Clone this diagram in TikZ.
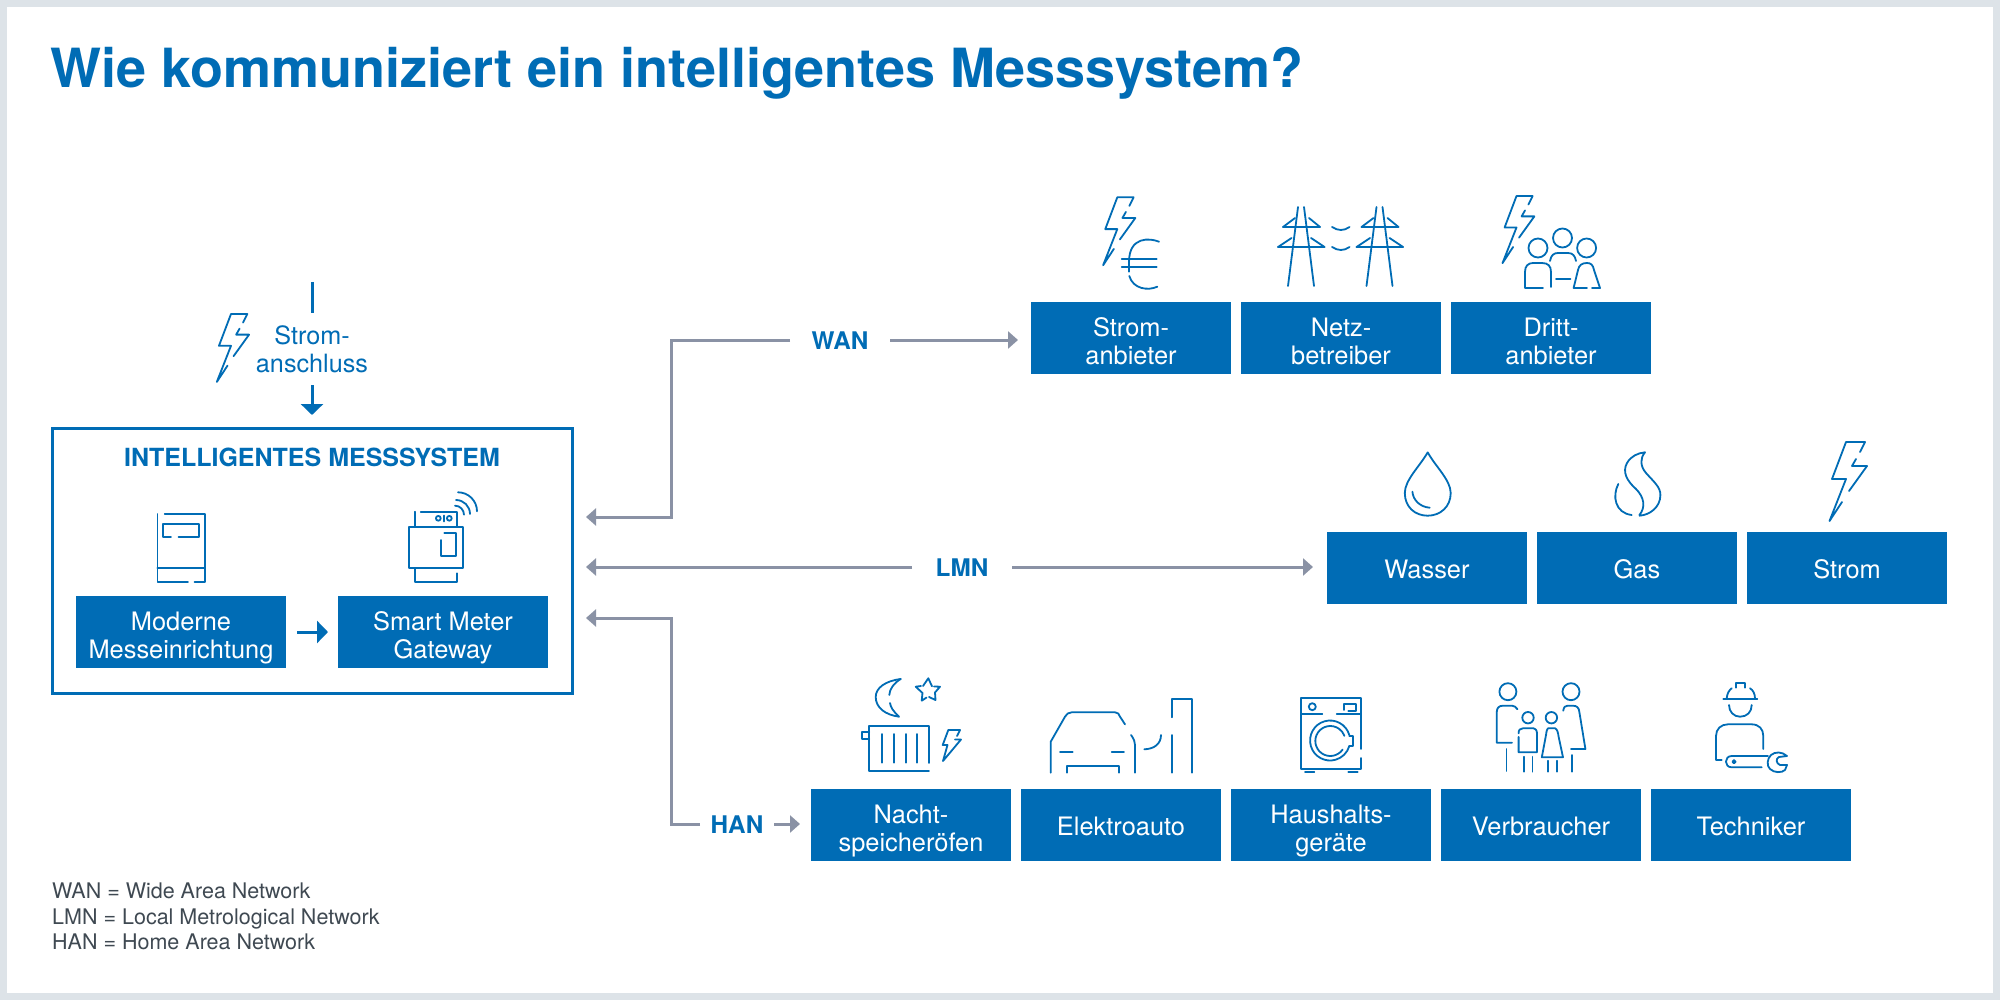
\documentclass[tikz,border=0pt]{standalone}
\usepackage{fontspec}
\setmainfont{TeX Gyre Heros}
\usetikzlibrary{arrows.meta,calc}
\definecolor{mesblue}{HTML}{006CB5}
\definecolor{linkgrey}{HTML}{8A92A5}
\definecolor{framegrey}{HTML}{DDE3E8}
\definecolor{legendgrey}{HTML}{3F4952}
\tikzset{
  bluebox/.style={fill=mesblue,text=white,minimum width=200pt,minimum height=72pt,outer sep=0pt,
    inner sep=0pt,align=center,text height=20pt,text depth=0pt,font=\fontsize{25.4}{28}\selectfont},
  twolines/.style={text height=52pt},
  linklabel/.style={text=mesblue,minimum width=100pt,outer sep=0pt,inner sep=0pt,text height=19.5pt,text depth=0pt,
    font=\fontsize{24.3}{28}\selectfont\bfseries},
  link/.style={draw=linkgrey,line width=3pt,arrows={-Triangle[length=10pt,width=17pt]}},
  bluelink/.style={draw=mesblue,line width=3pt,arrows={-Triangle[length=11pt,width=22pt]}},
  icon/.style={draw=mesblue,line width=1.8pt,line cap=round,line join=round},
  bolt/.pic={
    \draw[icon] (14,10) -- (19,0) -- (0,0) -- (-14,37) -- (0,37) -- (-16.5,79) -- (-4,60);
    \draw[icon] (10,17) -- (6,24) -- (21,24) -- (3,49);
  },
  pylon/.pic={
    \draw[icon] (-3,0) -- (-13,79) (3,0) -- (13,79);
    \draw[icon] (-18,20) -- (19,20) (-23,40) -- (23.5,40);
    \draw[icon] (-18,20) -- (-6,11) (19,20) -- (8,11) (-23,40) -- (-9.5,31) (23.5,40) -- (10,31);
  }
}
\begin{document}
\begin{tikzpicture}[x=1pt,y=-1pt,>=Stealth]
\useasboundingbox (0,0) rectangle (2000,1000);
\fill[framegrey] (0,0) rectangle (2000,1000);
\fill[white] (7,7) rectangle (1993,993);
\node[anchor=base west,inner sep=0pt,text=mesblue,font=\fontsize{54}{60}\selectfont\bfseries] (headline) at (50,88)
  {Wie kommuniziert ein intelligentes Messsystem?};
% measuring system on the left
\node[draw=mesblue,line width=3pt,minimum width=520pt,minimum height=265pt,outer sep=0pt] (messsystem) at (312,560.5) {};
\node[inner sep=0pt,text=mesblue,font=\fontsize{25}{28}\selectfont\bfseries] (messtitle) at (312,457) {INTELLIGENTES MESSSYSTEM};
\node[bluebox,twolines,minimum width=210pt] (moderne) at (181,632) {Moderne\\Messeinrichtung};
\node[bluebox,twolines,minimum width=210pt] (gateway) at (443,632) {Smart Meter\\Gateway};
\draw[bluelink,shorten <=11pt,shorten >=10pt] (moderne) -- (gateway);
\coordinate (supply) at (312,282);
\node[inner sep=0pt,outer sep=0pt,text=mesblue,minimum height=72pt,align=center,font=\fontsize{25.2}{28}\selectfont] (anschluss) at (312,349) {Strom-\\anschluss};
\draw[draw=mesblue,line width=3pt] (supply) -- (anschluss);
\draw[bluelink,shorten >=13pt] (anschluss) -- (messsystem);
\pic at (231,314) [scale=0.86] {bolt};
% target boxes
\node[bluebox,twolines] (stromanbieter) at (1131,338) {Strom-\\anbieter};
\node[bluebox,twolines] (netzbetreiber) at (1341,338) {Netz-\\betreiber};
\node[bluebox,twolines] (drittanbieter) at (1551,338) {Dritt-\\anbieter};
\node[bluebox] (wasser) at (1427,568) {Wasser};
\node[bluebox] (gas) at (1637,568) {Gas};
\node[bluebox] (stromzaehler) at (1847,568) {Strom};
\node[bluebox,twolines] (nachtspeicher) at (911,825) {Nacht-\\speicheröfen};
\node[bluebox] (elektroauto) at (1121,825) {Elektroauto};
\node[bluebox,twolines] (hausgeraete) at (1331,825) {Haushalts-\\geräte};
\node[bluebox] (verbraucher) at (1541,825) {Verbraucher};
\node[bluebox] (techniker) at (1751,825) {Techniker};
% links
\node[linklabel] (wan) at (840,340) {WAN};
\node[linklabel] (lmn) at (962,567) {LMN};
\node[linklabel,minimum width=74pt] (han) at (737,824) {HAN};
\coordinate (wanport) at (572,517);
\coordinate (lmnport) at (572,567);
\coordinate (hanport) at (572,618);
\draw[link,shorten >=14pt] (wan) -| (671,517) -- (wanport);
\draw[link,shorten >=13pt] (wan) -- (wan-|stromanbieter.west);
\draw[link,shorten >=14pt] (lmn) -- (lmnport);
\draw[link,shorten >=14pt] (lmn) -- (lmn-|wasser.west);
\draw[link,shorten >=14pt] (han) -| (671,618) -- (hanport);
\draw[link,shorten >=11pt] (han) -- (han-|nachtspeicher.west);
% legend
\node[anchor=north west,inner sep=0pt,text=legendgrey,align=left,font=\fontsize{21.5}{25.5}\selectfont] (legende) at (52,883)
  {WAN = Wide Area Network\\LMN = Local Metrological Network\\HAN = Home Area Network};
% meter
\draw[icon] (188,582) -- (157.4,582) -- (157.4,514) (164.7,514) -- (205,514) -- (205,582) -- (194.6,582);
\draw[icon] (157.4,568) -- (205,568);
\draw[icon] (171,537) -- (163,537) -- (163,524) -- (199,524) -- (199,537) -- (178.5,537);
% gateway
\draw[icon] (409.3,526.7) rectangle (463.3,568.3);
\draw[icon] (415,526.7) -- (415,511.7) (420.7,511.7) -- (457.3,511.7) -- (457.3,526.7);
\draw[icon] (415,568.3) -- (415,581.7) -- (457.3,581.7) -- (457.3,573.3);
\draw[icon] (438.3,518.3) circle (2.4) (449.3,518.3) circle (2.4) (444,515.5) -- (444,521.5);
\draw[icon] (444.3,533.3) -- (455.7,533.3) -- (455.7,555.7) -- (440.7,555.7) -- (440.7,540);
\draw[icon] (455,505.7) arc[start angle=-90,end angle=0,radius=9];
\draw[icon] (456,500) arc[start angle=-90,end angle=0,radius=14];
\draw[icon] (458,492.3) arc[start angle=-90,end angle=0,radius=19];
% strom + euro
\pic at (1117.3,197.3) [scale=0.86] {bolt};
\draw[icon] (1121.7,259) -- (1156.7,259) (1121.7,267.3) -- (1156.7,267.3);
\draw[icon] (1159,241.7) .. controls (1150,238) and (1129,236) .. (1129,262) -- (1129,271.7);
\draw[icon] (1129.3,276) .. controls (1133,289) and (1148,291) .. (1157.3,286.7);
% pylons
\pic at (1301,207) {pylon};
\pic at (1379.5,207) {pylon};
\draw[icon] (1332,227) .. controls (1338,231) and (1344,231) .. (1349.5,227);
\draw[icon] (1332,247) .. controls (1338,251) and (1344,251) .. (1349.5,247);
% strom + people
\pic at (1516.5,196) [scale=0.85] {bolt};
\draw[icon] (1562.5,238) circle (9.5) (1538,248) circle (9.5) (1586.6,248) circle (9.5);
\draw[icon] (1543,288) -- (1525,288) -- (1525,272) .. controls (1525,266) and (1528,263) .. (1533,263) -- (1542,263) .. controls (1548,263) and (1551,266) .. (1551,272) -- (1551,287);
\draw[icon] (1556,279) -- (1570.5,279);
\draw[icon] (1550,261) .. controls (1551,255) and (1554,253) .. (1558,253) -- (1568,253) .. controls (1573,253) and (1575,256) .. (1576,261);
\draw[icon] (1587,288) -- (1573.6,288) -- (1578,270) .. controls (1579,265) and (1582,263) .. (1587,263) .. controls (1591,263) and (1593,265) .. (1594,270) -- (1600,288) -- (1592,288);
% drop
\draw[icon] (1427.7,452.3) .. controls (1420,466) and (1404.8,480) .. (1404.8,493) .. controls (1404.8,507) and (1415,515.7) .. (1427.7,515.7) .. controls (1440,515.7) and (1450.7,507) .. (1450.7,493) .. controls (1450.7,480) and (1435,466) .. (1427.7,452.3);
\draw[icon] (1412.4,491.7) .. controls (1413,500) and (1420,507) .. (1429.7,507.7);
% flame
\draw[icon] (1639.4,515) .. controls (1646,507) and (1644,497) .. (1636,489) .. controls (1627,481) and (1622,472) .. (1627,463) .. controls (1631,456) and (1638,453) .. (1645,452.3) .. controls (1640,458) and (1640,466) .. (1646,473) .. controls (1654,482) and (1660.4,487) .. (1660.4,495) .. controls (1660.4,507) and (1650,515) .. (1639.4,515.7);
\draw[icon] (1618.3,484) .. controls (1612,496) and (1615,513) .. (1631.7,515);
\pic at (1846,442) {bolt};
% storage heater
\draw[icon] (900.7,679) .. controls (885,681) and (875.7,688) .. (875.7,697) .. controls (875.7,708) and (886,715) .. (899,716.7) .. controls (893,711) and (890.5,707) .. (890,703);
\draw[icon] (889.3,695) .. controls (889.5,689) and (894,683) .. (900.7,679);
\draw[icon] (923,686) -- (928.3,678.3) -- (932,686.3);
\draw[icon] (934,686.5) -- (940,686.7) -- (935,692.5) -- (935.5,700) -- (929,697);
\draw[icon] (926.5,697.5) -- (921.7,700.7) -- (922.5,693) -- (915.7,686.7) -- (921,686);
\draw[icon] (929,763) -- (929,725.7) -- (869.3,725.7) -- (869.3,771) -- (929,771);
\draw[icon] (869.3,731.7) -- (861.7,731.7) -- (861.7,739) -- (869.3,739);
\foreach \x in {882.3,894,905.7,917.3} \draw[icon] (\x,734) -- (\x,762.7);
\draw[icon] (955,739.5) -- (961,739.5) -- (943,761) -- (947.5,745) -- (942.7,745) -- (948.3,730) -- (960,730) -- (957,736);
% car
\draw[icon] (1050.7,772.7) -- (1050.7,741.7) -- (1065,716.7) .. controls (1066,714) and (1069,712.3) .. (1071.7,712.3) -- (1115,712.3) .. controls (1118,712.3) and (1119,714) .. (1120,716.7) -- (1125,724.3);
\draw[icon] (1131,735) .. controls (1134,739) and (1135,742) .. (1135,745) -- (1135,772.7);
\draw[icon] (1060,751.7) -- (1072.7,751.7) (1111.7,751.7) -- (1124,751.7);
\draw[icon] (1067.3,772.7) -- (1067.3,765.7) -- (1119.3,765.7) -- (1119.3,772.7);
\draw[icon] (1144.3,749.3) .. controls (1154,749) and (1161,744) .. (1161,735);
\draw[icon] (1172.3,717.3) -- (1172.3,699) -- (1191.7,699) -- (1191.7,772.7) (1172.3,735) -- (1172.3,772.7);
% washing machine
\draw[icon] (1361,749) -- (1361,698.3) -- (1301,698.3) -- (1301,769.3) -- (1361,769.3) -- (1361,758);
\draw[icon] (1301,714) -- (1322.3,714) (1336.7,714) -- (1361,714);
\draw[icon] (1312.3,706.7) circle (3.5);
\draw[icon] (1344.3,710) -- (1344.3,704) -- (1356,704) -- (1356,710.7) -- (1348.3,710.7);
\draw[icon] (1349.3,735) arc[start angle=-16,end angle=-344,radius=20];
\draw[icon] (1342.6,749.6) arc[start angle=35,end angle=340,radius=15];
\draw[icon] (1349.3,736) -- (1352.7,736) -- (1352.7,746) -- (1349.3,746);
\draw[icon] (1305,771.7) -- (1314.3,771.7) (1348.3,771.7) -- (1357.7,771.7);
% family
\draw[icon] (1507.9,691.7) circle (8.5) (1571,691.7) circle (8.5) (1528,717.7) circle (5.7) (1551.4,717.7) circle (5.7);
\draw[icon] (1517.5,709.3) .. controls (1516,707) and (1514,705.7) .. (1512,705.7) -- (1503,705.7) .. controls (1499,705.7) and (1496.8,708) .. (1496.8,711.7) -- (1496.8,742.7) -- (1512,742.7);
\draw[icon] (1506.4,749) -- (1506.4,771);
\draw[icon] (1518.6,737) -- (1518.6,752.3) -- (1537,752.3) -- (1537,733.3) .. controls (1537,730) and (1535,728.3) .. (1533.6,728.3) -- (1522.9,728.3) .. controls (1520,728.3) and (1518.6,730) .. (1518.6,733.3);
\draw[icon] (1524,756.7) -- (1524,771.7) (1532.5,756.7) -- (1532.5,771.7);
\draw[icon] (1547.9,728.3) -- (1555,728.3) .. controls (1557,729) and (1558,732) .. (1558.6,736.7) -- (1563,757.3) -- (1541.8,757.3) -- (1546,735) .. controls (1546.5,731) and (1547,729) .. (1547.9,728.3);
\draw[icon] (1547.9,760.7) -- (1547.9,771.7) (1556.8,760.7) -- (1556.8,771.7);
\draw[icon] (1563.2,710.7) .. controls (1564,707) and (1565,705.7) .. (1567.5,705.7) -- (1572.9,705.7) .. controls (1577,705.7) and (1579,708) .. (1579.3,711.7) -- (1585.4,749) -- (1571,749);
\draw[icon] (1572,755) -- (1572,771.7);
% technician
\draw[icon] (1723.3,699.3) -- (1757.3,699.3);
\draw[icon] (1726.7,698.3) .. controls (1727,694) and (1729,690) .. (1731.7,688.3);
\draw[icon] (1750,688.3) .. controls (1753,690) and (1755,694) .. (1755,698.3);
\draw[icon] (1736,687.7) -- (1736,683.3) -- (1745,683.3) -- (1745,687.7);
\draw[icon] (1729,705) .. controls (1729,712) and (1734,716.7) .. (1740,716.7) .. controls (1747,716.7) and (1751.7,712) .. (1751.7,705);
\draw[icon] (1721.7,760) -- (1716,760) -- (1716,736) .. controls (1716,729) and (1721,724.3) .. (1728,724.3) -- (1751.4,724.3) .. controls (1759,724.3) and (1763.3,729) .. (1763.3,736) -- (1763.3,749);
\draw[icon] (1768,756) -- (1731.7,756) .. controls (1724,756) and (1724,767.3) .. (1731.7,767.3) -- (1761.7,767.3);
\draw[icon,fill=mesblue] (1734,761.7) circle (1.6);
\draw[icon] (1787,756) .. controls (1782,751.5) and (1775,751.5) .. (1771,755) .. controls (1767,758.5) and (1766.5,766) .. (1770,769) .. controls (1774,773) and (1782,773) .. (1785,770) -- (1787,765) -- (1780,765) .. controls (1776,763.5) and (1775.5,758.5) .. (1779,757) -- (1787,756);
\end{tikzpicture}
\end{document}
